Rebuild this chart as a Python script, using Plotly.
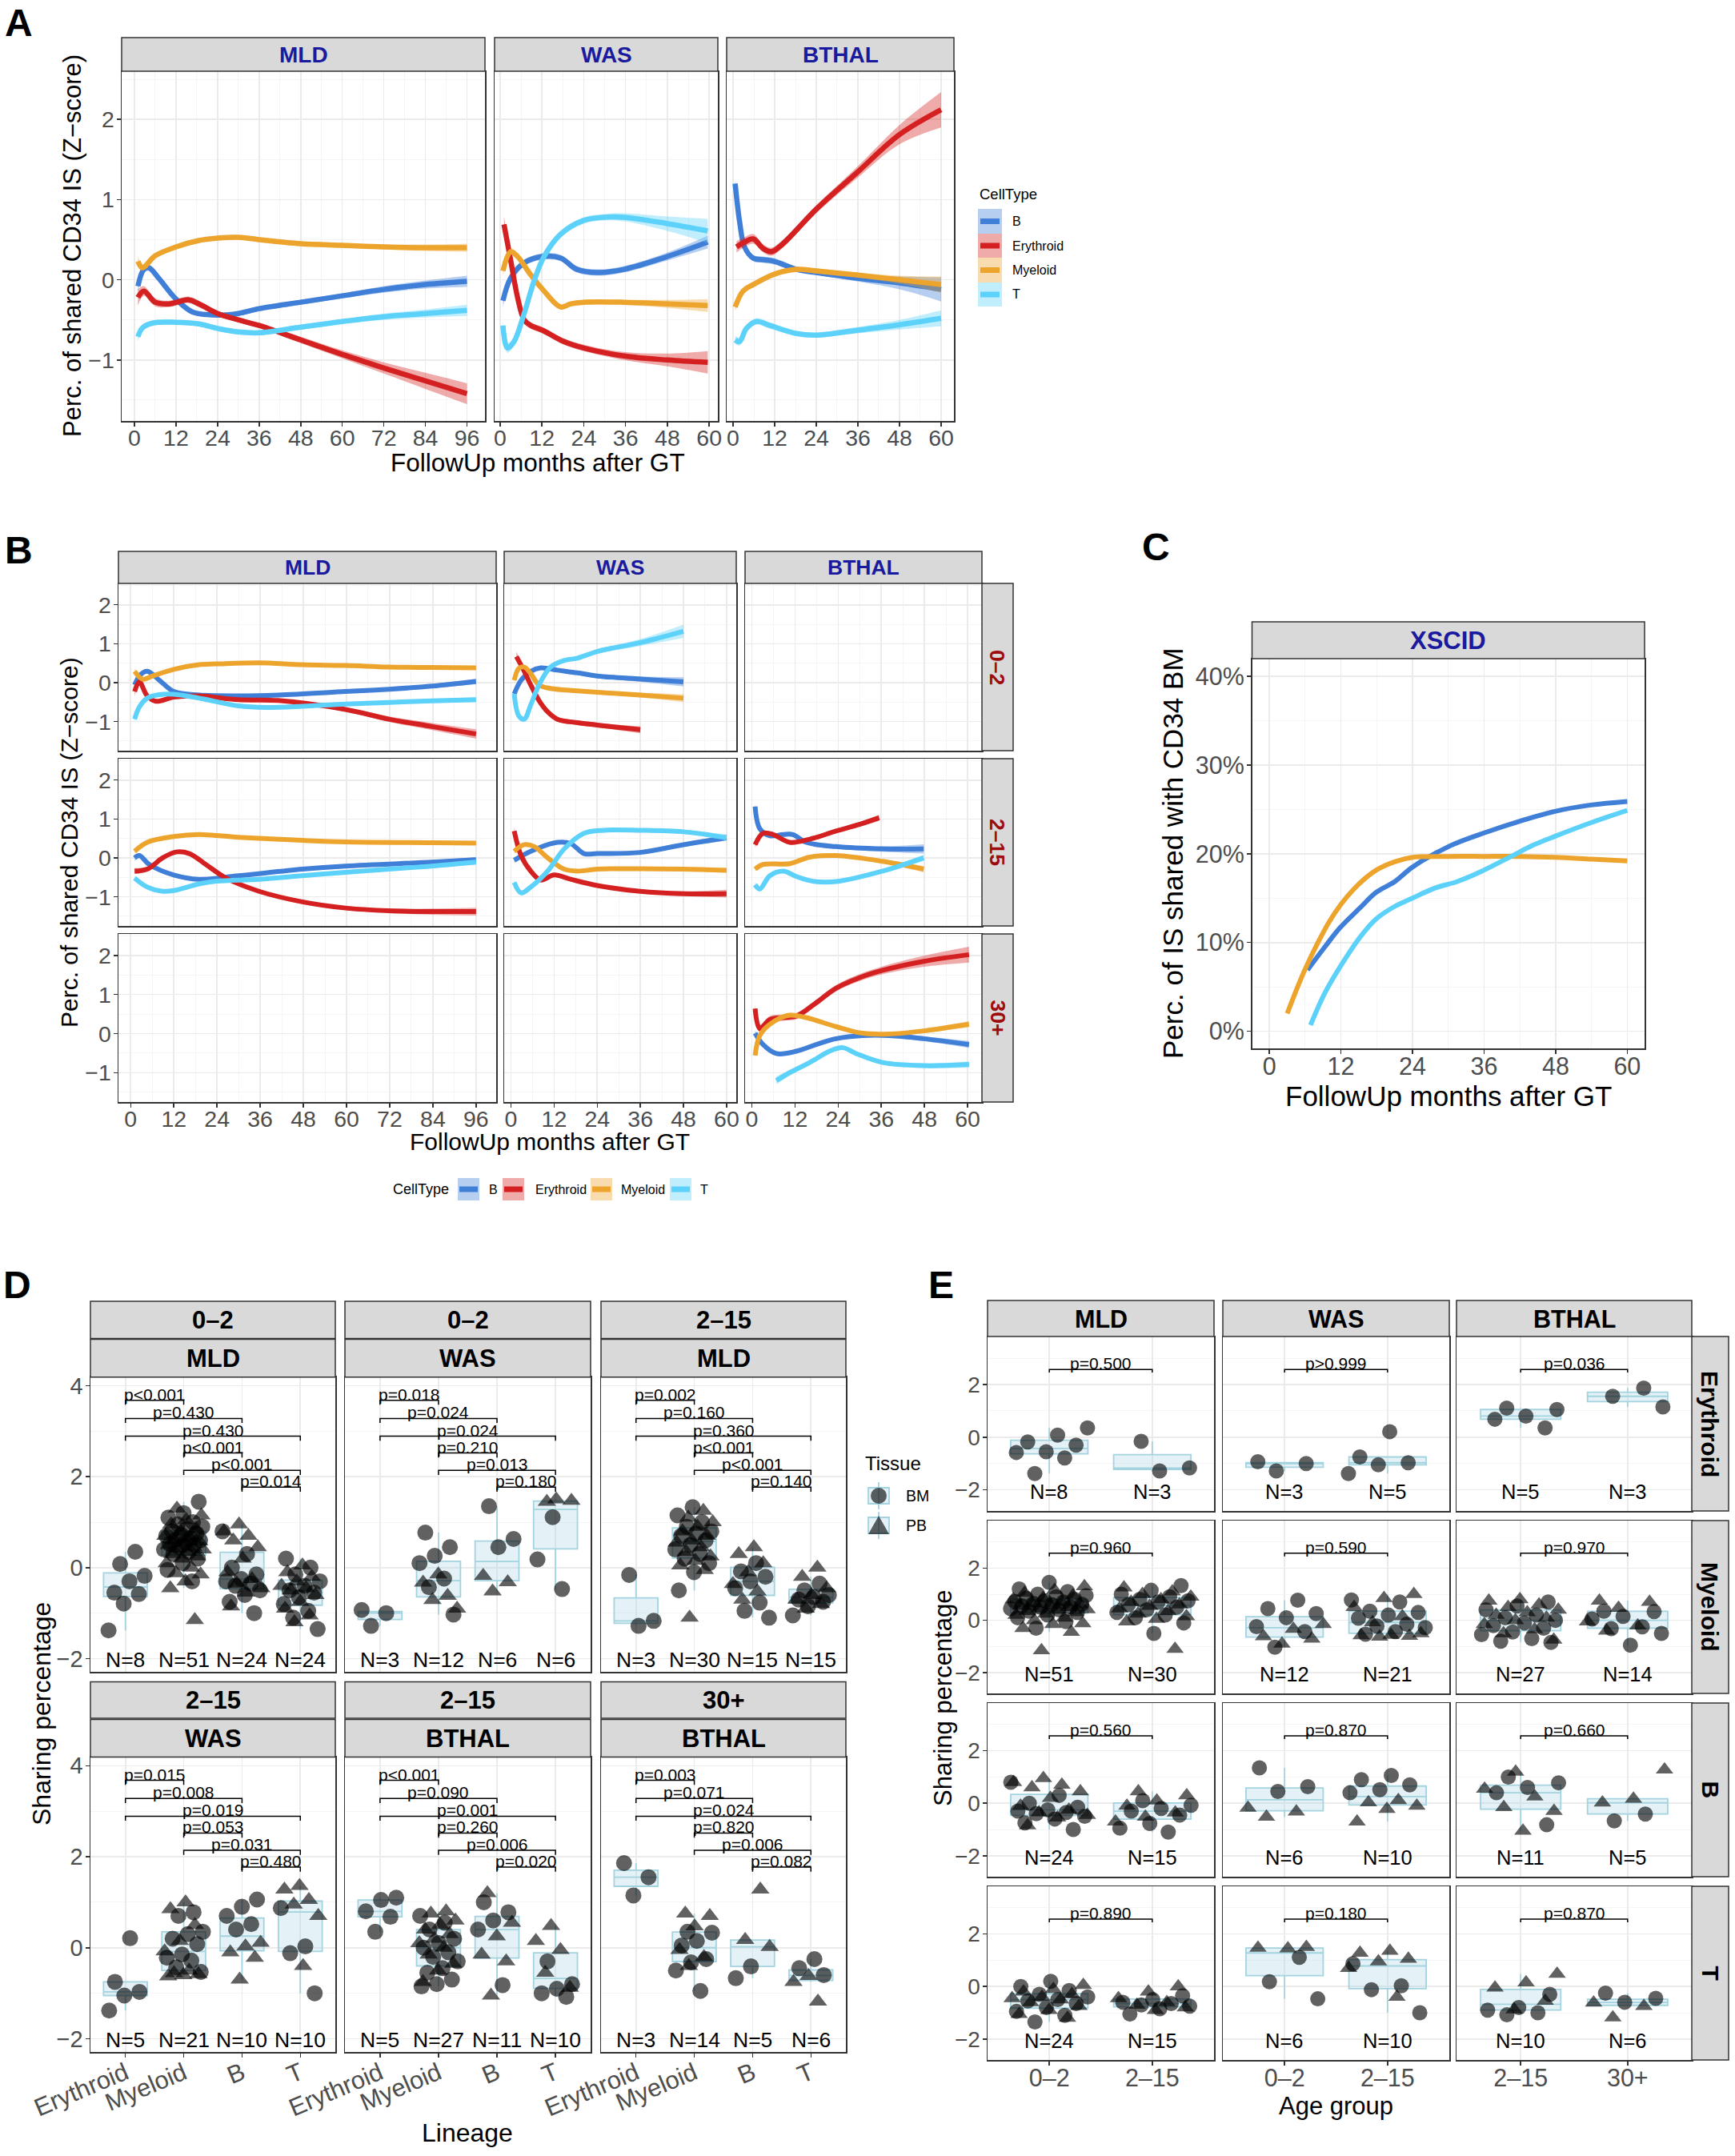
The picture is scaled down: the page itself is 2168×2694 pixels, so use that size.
import numpy as np
import plotly.graph_objects as go

W, H = 2168, 2694
FONT = "Liberation Sans, Arial, Helvetica, sans-serif"
TICK_TXT = "#4D4D4D"
EDGE = "#333333"
GRID = "#EBEBEB"
GRID_MINOR = "#F5F5F5"
STRIP_FILL = "#D9D9D9"
BLUE_TXT = "#1A1A9E"
RED_TXT = "#9E0B0B"
BOX_FILL = "rgba(173,216,230,0.33)"
BOX_LINE = "#A3D3DF"
PT_COLOR = "rgba(0,0,0,0.62)"

CELL_TYPES = ["B", "Erythroid", "Myeloid", "T"]
LINE_COLORS = {"B": "#3F7FD8", "Erythroid": "#D42020", "Myeloid": "#EDA42C", "T": "#5CD1FA"}
BAND_COLORS = {"B": "rgba(63,127,216,0.38)", "Erythroid": "rgba(212,32,32,0.38)",
               "Myeloid": "rgba(237,164,44,0.38)", "T": "rgba(92,209,250,0.38)"}

# ======================= DATA =======================
# ---- Panel A : smoothed Z-score curves (x = months, y = z, se = ribbon half width)
A_MLD = {
    "B": dict(x=[1, 2.7, 4.2, 7, 12, 16.7, 24, 30, 36, 48, 60, 72, 84, 96],
              y=[-0.08, 0.13, 0.15, 0.02, -0.24, -0.40, -0.44, -0.42, -0.36, -0.28, -0.20, -0.12, -0.06, -0.02],
              se=[0.08, 0.05, 0.04, 0.04, 0.03, 0.03, 0.03, 0.03, 0.03, 0.03, 0.03, 0.04, 0.05, 0.07]),
    "Erythroid": dict(x=[1, 2.7, 6, 10, 15.7, 18.6, 24, 30, 36, 48, 60, 72, 84, 96],
                      y=[-0.22, -0.14, -0.28, -0.30, -0.25, -0.30, -0.42, -0.50, -0.57, -0.75, -0.93, -1.10, -1.26, -1.42],
                      se=[0.10, 0.06, 0.05, 0.04, 0.04, 0.04, 0.03, 0.03, 0.03, 0.04, 0.05, 0.07, 0.10, 0.13]),
    "Myeloid": dict(x=[1, 2.3, 6, 12, 18.6, 24, 30, 36, 48, 60, 72, 84, 96],
                    y=[0.23, 0.15, 0.30, 0.41, 0.49, 0.52, 0.53, 0.50, 0.45, 0.43, 0.41, 0.40, 0.40],
                    se=[0.07, 0.04, 0.03, 0.03, 0.03, 0.03, 0.03, 0.03, 0.03, 0.03, 0.03, 0.04, 0.05]),
    "T": dict(x=[1, 2.3, 5.2, 12, 18.6, 24.4, 30, 36, 48, 60, 72, 84, 96],
              y=[-0.71, -0.60, -0.54, -0.53, -0.55, -0.61, -0.65, -0.66, -0.59, -0.52, -0.46, -0.42, -0.38],
              se=[0.06, 0.04, 0.03, 0.03, 0.03, 0.03, 0.03, 0.03, 0.03, 0.03, 0.04, 0.05, 0.07]),
}
A_WAS = {
    "B": dict(x=[0.8, 3, 6.9, 12.2, 17.4, 22, 28, 35.5, 48, 59.6],
              y=[-0.26, 0.02, 0.21, 0.29, 0.27, 0.13, 0.09, 0.13, 0.29, 0.47],
              se=[0.08, 0.05, 0.04, 0.04, 0.04, 0.04, 0.04, 0.04, 0.05, 0.08]),
    "Erythroid": dict(x=[1.1, 3, 5, 6.9, 8.8, 12.2, 18.3, 24, 35.5, 48, 59.6],
                      y=[0.69, 0.25, -0.22, -0.50, -0.57, -0.63, -0.77, -0.85, -0.95, -1.00, -1.03],
                      se=[0.10, 0.07, 0.05, 0.05, 0.04, 0.04, 0.04, 0.04, 0.05, 0.08, 0.14]),
    "Myeloid": dict(x=[0.8, 3, 5, 8.8, 12.6, 17.4, 20.3, 24, 35.5, 48, 59.6],
                    y=[0.11, 0.35, 0.29, 0.06, -0.14, -0.34, -0.30, -0.28, -0.28, -0.30, -0.32],
                    se=[0.06, 0.04, 0.04, 0.03, 0.03, 0.03, 0.03, 0.03, 0.03, 0.05, 0.08]),
    "T": dict(x=[0.8, 2.1, 4, 6.9, 9.7, 12.6, 17.4, 24, 29.8, 35.5, 48, 59.6],
              y=[-0.57, -0.85, -0.77, -0.42, -0.02, 0.29, 0.57, 0.74, 0.78, 0.78, 0.70, 0.61],
              se=[0.07, 0.06, 0.05, 0.04, 0.04, 0.04, 0.04, 0.04, 0.04, 0.05, 0.09, 0.15]),
}
A_BTHAL = {
    "B": dict(x=[0.6, 1.9, 3.3, 5.8, 8.7, 11.9, 18.3, 24, 35.6, 48, 60],
              y=[1.20, 0.72, 0.41, 0.27, 0.25, 0.23, 0.13, 0.09, 0.02, -0.04, -0.12],
              se=[0.06, 0.05, 0.04, 0.04, 0.04, 0.04, 0.03, 0.03, 0.04, 0.08, 0.15]),
    "Erythroid": dict(x=[1, 3.3, 5.8, 8.7, 11, 14.4, 24, 35.6, 48, 60],
                      y=[0.41, 0.47, 0.51, 0.39, 0.35, 0.45, 0.88, 1.33, 1.81, 2.12],
                      se=[0.07, 0.06, 0.06, 0.05, 0.05, 0.05, 0.05, 0.07, 0.12, 0.22]),
    "Myeloid": dict(x=[0.6, 2.9, 5.8, 11.9, 18.3, 24, 35.6, 48, 60],
                    y=[-0.34, -0.14, -0.06, 0.07, 0.13, 0.11, 0.06, 0.00, -0.06],
                    se=[0.05, 0.04, 0.03, 0.03, 0.03, 0.03, 0.03, 0.05, 0.10]),
    "T": dict(x=[0.6, 1.9, 3.8, 6.7, 10.6, 18.3, 24, 35.6, 48, 60],
              y=[-0.75, -0.77, -0.61, -0.52, -0.57, -0.67, -0.69, -0.63, -0.56, -0.48],
              se=[0.05, 0.05, 0.04, 0.04, 0.04, 0.03, 0.03, 0.04, 0.06, 0.10]),
}

# ---- Panel B : same, split by age group
B_MLD_02 = {
    "B": dict(x=[1.1, 2.8, 4.6, 8, 12, 19, 30, 41, 59.7, 71.8, 83.8, 96],
              y=[-0.06, 0.21, 0.29, 0.06, -0.23, -0.32, -0.34, -0.32, -0.23, -0.17, -0.09, 0.03],
              se=[0.09, 0.06, 0.05, 0.04, 0.04, 0.03, 0.03, 0.03, 0.03, 0.04, 0.05, 0.07]),
    "Erythroid": dict(x=[1.1, 2.4, 4.6, 7, 12, 19, 30, 41, 59.7, 71.8, 83.8, 96],
                      y=[-0.23, 0.02, -0.34, -0.48, -0.37, -0.34, -0.44, -0.46, -0.69, -0.94, -1.13, -1.32],
                      se=[0.12, 0.08, 0.06, 0.05, 0.04, 0.04, 0.04, 0.04, 0.05, 0.07, 0.09, 0.12]),
    "Myeloid": dict(x=[1.1, 3.3, 6.1, 12, 19, 24, 35.7, 47.7, 59.7, 71.8, 83.8, 96],
                    y=[0.29, 0.09, 0.17, 0.34, 0.46, 0.48, 0.51, 0.46, 0.44, 0.40, 0.39, 0.38],
                    se=[0.08, 0.05, 0.04, 0.03, 0.03, 0.03, 0.03, 0.03, 0.03, 0.03, 0.04, 0.05]),
    "T": dict(x=[1.1, 2.4, 4.6, 8, 12, 19, 30, 37.5, 47.7, 59.7, 71.8, 83.8, 96],
              y=[-0.94, -0.63, -0.40, -0.31, -0.30, -0.40, -0.60, -0.64, -0.61, -0.55, -0.51, -0.47, -0.44],
              se=[0.08, 0.06, 0.05, 0.04, 0.03, 0.03, 0.03, 0.03, 0.03, 0.03, 0.04, 0.05, 0.06]),
}
B_WAS_02 = {
    "B": dict(x=[0.9, 2.8, 5.5, 8.3, 12.9, 18.5, 24, 36, 48],
              y=[-0.29, 0.06, 0.29, 0.38, 0.32, 0.25, 0.17, 0.09, 0.02],
              se=[0.09, 0.06, 0.05, 0.05, 0.05, 0.05, 0.05, 0.07, 0.12]),
    "Erythroid": dict(x=[1.5, 3.7, 5.5, 7.8, 10.2, 12.9, 18.5, 24, 29.5, 36],
                      y=[0.67, 0.29, -0.06, -0.46, -0.75, -0.94, -1.03, -1.09, -1.15, -1.21],
                      se=[0.12, 0.08, 0.06, 0.06, 0.06, 0.06, 0.06, 0.06, 0.07, 0.09]),
    "Myeloid": dict(x=[0.9, 2.2, 3.7, 5.5, 7.8, 11, 18.5, 24, 36, 48],
                    y=[0.06, 0.37, 0.40, 0.23, -0.06, -0.15, -0.21, -0.25, -0.32, -0.40],
                    se=[0.08, 0.06, 0.05, 0.04, 0.04, 0.04, 0.04, 0.04, 0.06, 0.10]),
    "T": dict(x=[0.9, 2.2, 3.7, 5.5, 7.8, 11, 14.8, 18.5, 24, 36, 48],
              y=[-0.29, -0.86, -0.94, -0.57, -0.06, 0.40, 0.57, 0.63, 0.80, 1.03, 1.32],
              se=[0.09, 0.07, 0.06, 0.05, 0.05, 0.05, 0.05, 0.05, 0.06, 0.09, 0.17]),
}
B_MLD_215 = {
    "B": dict(x=[1.1, 2.4, 5.2, 12, 19, 30, 47.7, 59.7, 83.8, 96],
              y=[0.00, 0.06, -0.17, -0.44, -0.55, -0.46, -0.29, -0.21, -0.11, -0.05],
              se=[0.08, 0.06, 0.05, 0.04, 0.03, 0.03, 0.03, 0.03, 0.05, 0.07]),
    "Erythroid": dict(x=[1.1, 4.6, 8.9, 12.6, 16.3, 20.9, 26.5, 35.7, 47.7, 59.7, 71.8, 83.8, 96],
                      y=[-0.34, -0.29, 0.00, 0.15, 0.11, -0.17, -0.52, -0.86, -1.13, -1.29, -1.36, -1.38, -1.38],
                      se=[0.08, 0.06, 0.05, 0.05, 0.05, 0.05, 0.04, 0.04, 0.04, 0.05, 0.06, 0.08, 0.10]),
    "Myeloid": dict(x=[1.1, 4.6, 12, 19, 30, 47.7, 59.7, 83.8, 96],
                    y=[0.17, 0.40, 0.55, 0.60, 0.53, 0.45, 0.41, 0.39, 0.38],
                    se=[0.06, 0.04, 0.03, 0.03, 0.03, 0.03, 0.03, 0.04, 0.05]),
    "T": dict(x=[1.1, 4.6, 8.9, 12, 19, 24, 35.7, 47.7, 59.7, 71.8, 83.8, 96],
              y=[-0.52, -0.75, -0.86, -0.84, -0.67, -0.60, -0.55, -0.46, -0.37, -0.29, -0.21, -0.11],
              se=[0.06, 0.04, 0.04, 0.03, 0.03, 0.03, 0.03, 0.03, 0.03, 0.04, 0.05, 0.06]),
}
B_WAS_215 = {
    "B": dict(x=[0.9, 5.5, 12.9, 16.6, 20.3, 24, 36, 48, 60],
              y=[-0.06, 0.17, 0.40, 0.37, 0.11, 0.11, 0.14, 0.34, 0.52],
              se=[0.07, 0.05, 0.04, 0.04, 0.04, 0.04, 0.04, 0.05, 0.08]),
    "Erythroid": dict(x=[0.9, 2.8, 5.5, 8.3, 12, 16.6, 24, 36, 48, 60],
                      y=[0.69, 0.06, -0.34, -0.57, -0.44, -0.55, -0.71, -0.86, -0.92, -0.92],
                      se=[0.10, 0.07, 0.05, 0.04, 0.04, 0.04, 0.04, 0.04, 0.06, 0.10]),
    "Myeloid": dict(x=[0.9, 3.7, 6.5, 10.2, 14.8, 18.5, 24, 36, 48, 60],
                    y=[0.17, 0.34, 0.29, 0.00, -0.29, -0.34, -0.29, -0.28, -0.29, -0.32],
                    se=[0.06, 0.04, 0.04, 0.03, 0.03, 0.03, 0.03, 0.03, 0.04, 0.06]),
    "T": dict(x=[0.9, 2.8, 5.5, 10.2, 14.8, 20.3, 25.8, 36, 48, 60],
              y=[-0.63, -0.90, -0.75, -0.34, 0.23, 0.63, 0.71, 0.71, 0.67, 0.52],
              se=[0.07, 0.06, 0.05, 0.04, 0.04, 0.04, 0.04, 0.04, 0.05, 0.08]),
}
B_BTHAL_215 = {
    "B": dict(x=[0.9, 2.2, 5, 8.7, 11.4, 15.1, 23.4, 36.4, 47.8],
              y=[1.32, 0.75, 0.57, 0.60, 0.60, 0.40, 0.29, 0.23, 0.23],
              se=[0.08, 0.06, 0.05, 0.05, 0.05, 0.05, 0.05, 0.07, 0.12]),
    "Erythroid": dict(x=[0.9, 3.1, 5.9, 10.5, 16.1, 23.4, 29.9, 35.4],
                      y=[0.34, 0.63, 0.60, 0.40, 0.48, 0.69, 0.86, 1.03],
                      se=[0.08, 0.06, 0.05, 0.05, 0.05, 0.05, 0.06, 0.08]),
    "Myeloid": dict(x=[0.9, 3.1, 10.5, 16.1, 23.4, 36.4, 47.8],
                    y=[-0.29, -0.17, -0.15, 0.02, 0.06, -0.09, -0.29],
                    se=[0.06, 0.04, 0.04, 0.04, 0.04, 0.05, 0.08]),
    "T": dict(x=[0.9, 2.2, 5, 8.7, 12.4, 17, 23.4, 36.4, 47.8],
              y=[-0.69, -0.80, -0.46, -0.34, -0.48, -0.60, -0.61, -0.34, 0.00],
              se=[0.06, 0.05, 0.04, 0.04, 0.04, 0.04, 0.04, 0.05, 0.08]),
}
B_BTHAL_30 = {
    "B": dict(x=[0.9, 3.1, 6.8, 12.4, 17.9, 23.4, 30.8, 38.2, 47.8, 60.4],
              y=[0.01, -0.28, -0.51, -0.45, -0.28, -0.13, -0.05, -0.05, -0.13, -0.28],
              se=[0.08, 0.06, 0.05, 0.05, 0.05, 0.05, 0.05, 0.05, 0.06, 0.09]),
    "Erythroid": dict(x=[0.9, 2.2, 5, 8.7, 12.4, 17.9, 23.4, 29.9, 36.4, 47.8, 60.4],
                      y=[0.64, 0.13, 0.36, 0.41, 0.45, 0.79, 1.16, 1.43, 1.62, 1.85, 2.02],
                      se=[0.12, 0.10, 0.09, 0.08, 0.08, 0.08, 0.08, 0.09, 0.10, 0.14, 0.20]),
    "Myeloid": dict(x=[0.9, 2.2, 5, 10.5, 15.1, 23.4, 30.8, 38.2, 47.8, 60.4],
                    y=[-0.56, -0.05, 0.24, 0.47, 0.41, 0.18, 0.01, -0.01, 0.07, 0.24],
                    se=[0.08, 0.06, 0.05, 0.04, 0.04, 0.04, 0.04, 0.04, 0.05, 0.08]),
    "T": dict(x=[6.8, 10.5, 16.1, 21.6, 25.3, 29, 36.4, 47.8, 60.4],
              y=[-1.20, -1.00, -0.74, -0.45, -0.36, -0.51, -0.74, -0.82, -0.79],
              se=[0.10, 0.08, 0.06, 0.05, 0.05, 0.05, 0.05, 0.06, 0.08]),
}

# ---- Panel C : XSCID, % of IS shared with CD34 BM
C_B_months = [6.4, 9.3, 11.9, 15.2, 17.8, 21.1, 24, 30.3, 36.2, 42.1, 48, 53.9, 60]
C_B_pct = [6.9, 9.5, 11.7, 13.9, 15.6, 16.9, 18.5, 20.9, 22.4, 23.7, 24.8, 25.5, 25.9]
C_M_months = [3, 4.5, 6, 8, 10, 12, 14, 16, 18, 21, 24, 30, 36, 42, 48, 54, 60]
C_M_pct = [2.0, 4.6, 7.0, 9.8, 12.3, 14.3, 15.9, 17.2, 18.2, 19.1, 19.6, 19.7, 19.7, 19.7, 19.6, 19.4, 19.2]
C_T_months = [6.9, 9.3, 11.9, 15.2, 17.8, 21.1, 24, 27.6, 31.6, 35.5, 40.8, 44, 48, 53.9, 60]
C_T_pct = [0.7, 4.3, 7.3, 10.6, 12.6, 14.1, 15.0, 16.1, 16.9, 18.0, 19.8, 20.9, 22.0, 23.5, 24.9]

# ---- Panels D / E : sharing percentage per sample, (BM values, PB values)
LINEAGES = ["Erythroid", "Myeloid", "B", "T"]
MLD_0_2 = {
    "Erythroid": ([0.35, 0.08, -0.18, -0.3, -0.55, -0.58, -0.79, -1.38], []),
    "Myeloid": ([1.45, 1.2, 1.1, 1.0, 0.95, 0.9, 0.85, 0.8, 0.75, 0.72, 0.7, 0.65, 0.62, 0.6, 0.55, 0.52,
                 0.5, 0.45, 0.4, 0.35, 0.3, 0.2, 0.1, -0.05, -0.3],
                [1.3, 1.15, 1.05, 0.95, 0.85, 0.8, 0.7, 0.65, 0.6, 0.58, 0.55, 0.5, 0.45, 0.42, 0.4, 0.35,
                 0.3, 0.25, 0.2, 0.1, 0.0, -0.12, -0.15, -0.3, -0.45, -1.15]),
    "B": ([0.8, 0.3, 0.0, -0.15, -0.25, -0.3, -0.35, -0.4, -0.5, -0.6, -0.75, -1.0],
          [0.95, 0.8, 0.7, 0.6, 0.45, 0.2, -0.1, -0.25, -0.35, -0.45, -0.55, -0.85]),
    "T": ([0.2, 0.0, -0.15, -0.3, -0.4, -0.5, -0.55, -0.65, -0.8, -0.95, -1.1, -1.35],
          [0.05, -0.1, -0.2, -0.3, -0.4, -0.45, -0.5, -0.6, -0.75, -0.9, -1.05, -1.2]),
}
WAS_0_2 = {
    "Erythroid": ([-0.93, -1.0, -1.28], []),
    "Myeloid": ([0.77, 0.45, 0.26, 0.1, -0.24, -0.43, -1.03], [-0.15, -0.33, -0.62, -0.71, -0.9]),
    "B": ([1.35, 0.63, 0.45], [-0.18, -0.32, -0.52]),
    "T": ([1.11, 0.18, -0.47], [1.45, 1.47, 1.5]),
}
MLD_2_15 = {
    "Erythroid": ([-0.16, -1.17, -1.28], []),
    "Myeloid": ([1.33, 1.15, 1.0, 0.9, 0.8, 0.75, 0.7, 0.6, 0.5, 0.4, 0.3, 0.2, 0.1, -0.1, -0.5],
                [1.25, 1.1, 1.0, 0.9, 0.8, 0.7, 0.6, 0.55, 0.45, 0.35, 0.25, 0.15, 0.05, -0.05, -1.1]),
    "B": ([0.1, -0.08, -0.2, -0.3, -0.45, -0.77, -0.95, -1.1], [0.45, 0.3, 0.1, -0.1, -0.36, -0.52, -0.7]),
    "T": ([-0.35, -0.5, -0.6, -0.65, -0.7, -0.75, -0.85, -1.05], [0.0, -0.2, -0.45, -0.6, -0.7, -0.8, -0.9]),
}
WAS_2_15 = {
    "Erythroid": ([0.21, -0.75, -0.97, -1.05, -1.38], []),
    "Myeloid": ([0.78, 0.7, 0.35, 0.3, 0.2, 0.08, -0.15, -0.22, -0.28, -0.43, -0.53],
                [1.0, 0.85, 0.5, 0.15, -0.08, -0.5, -0.56, -0.58, -0.6, -0.63]),
    "B": ([1.06, 0.9, 0.7, 0.52, 0.4], [0.11, 0.03, -0.1, -0.22, -0.7]),
    "T": ([0.87, 0.03, -0.12, -1.0], [1.36, 1.28, 1.05, 0.95, 0.7, -0.4]),
}
BTHAL_2_15 = {
    "Erythroid": ([1.1, 1.05, 0.8, 0.68, 0.35], []),
    "Myeloid": ([0.7, 0.55, 0.4, 0.2, 0.1, 0.0, -0.1, -0.2, -0.3, -0.45, -0.55, -0.7, -0.8, -0.85],
                [0.8, 0.75, 0.6, 0.5, 0.4, 0.3, 0.2, 0.1, 0.0, -0.15, -0.35, -0.5, -0.75]),
    "B": ([1.0, 0.78, 0.6, 0.4, -0.82], [1.2, 0.55, 0.25, -0.15, -0.3, -1.05]),
    "T": ([-0.3, -0.8, -0.9, -1.0, -1.08], [0.48, 0.15, -0.05, -0.55, -0.88]),
}
BTHAL_30 = {
    "Erythroid": ([1.86, 1.55, 1.15], []),
    "Myeloid": ([0.35, 0.33, 0.15, 0.05, -0.25, -0.32, -0.5, -0.95], [0.75, 0.7, 0.47, -0.05, -0.2, -0.4]),
    "B": ([-0.41, -0.67], [1.28, 0.17, 0.02]),
    "T": ([-0.25, -0.45, -0.6], [-0.62, -0.75, -1.18]),
}

# pairwise p-values (Ery-Mye, Ery-B, Ery-T, Mye-B, Mye-T, B-T)
D_P_MLD_0_2 = ["p<0.001", "p=0.430", "p=0.430", "p<0.001", "p<0.001", "p=0.014"]
D_P_WAS_0_2 = ["p=0.018", "p=0.024", "p=0.024", "p=0.210", "p=0.013", "p=0.180"]
D_P_MLD_2_15 = ["p=0.002", "p=0.160", "p=0.360", "p<0.001", "p<0.001", "p=0.140"]
D_P_WAS_2_15 = ["p=0.015", "p=0.008", "p=0.019", "p=0.053", "p=0.031", "p=0.480"]
D_P_BTHAL_2_15 = ["p<0.001", "p=0.090", "p=0.001", "p=0.260", "p=0.006", "p=0.020"]
D_P_BTHAL_30 = ["p=0.003", "p=0.071", "p=0.024", "p=0.820", "p=0.006", "p=0.082"]

E_DISEASES = ["MLD", "WAS", "BTHAL"]
E_AGES = {"MLD": ["0–2", "2–15"], "WAS": ["0–2", "2–15"], "BTHAL": ["2–15", "30+"]}
E_P = {"Erythroid": ["p=0.500", "p>0.999", "p=0.036"],
       "Myeloid": ["p=0.960", "p=0.590", "p=0.970"],
       "B": ["p=0.560", "p=0.870", "p=0.660"],
       "T": ["p=0.890", "p=0.180", "p=0.870"]}

COHORTS = {("MLD", "0–2"): MLD_0_2, ("WAS", "0–2"): WAS_0_2, ("MLD", "2–15"): MLD_2_15,
           ("WAS", "2–15"): WAS_2_15, ("BTHAL", "2–15"): BTHAL_2_15, ("BTHAL", "30+"): BTHAL_30}

# ======================= FIGURE =======================
fig = go.Figure()
layout = {}
shapes = []
annotations = []
_axn = [0]


def px_x(px):
    return px / W


def px_y(py):
    return 1 - py / H


def axis_base(size, standoff):
    return dict(showline=True, mirror=True, linecolor=EDGE, linewidth=1.5, automargin=False,
                showgrid=True, gridcolor=GRID, gridwidth=1.6, zeroline=False,
                ticks="outside", ticklen=5, tickwidth=1.5, tickcolor=EDGE, ticklabelstandoff=standoff,
                tickfont=dict(family=FONT, size=size, color=TICK_TXT), fixedrange=True)


def add_axes(x0, x1, y0, y1, xr, yr, xopt=None, yopt=None, size=27):
    _axn[0] += 1
    n = _axn[0]
    s = "" if n == 1 else str(n)
    xd = axis_base(size, -10)
    xd.update(domain=[px_x(x0), px_x(x1)], range=xr, anchor="y" + s)
    yd = axis_base(size, -3)
    yd.update(domain=[px_y(y1), px_y(y0)], range=yr, anchor="x" + s)
    if xopt:
        xd.update(xopt)
    if yopt:
        yd.update(yopt)
    layout["xaxis" + s] = xd
    layout["yaxis" + s] = yd
    xa, ya = "x" + s, "y" + s
    # empty carrier trace so that every panel (even one without data) is drawn
    fig.add_trace(go.Scatter(x=[], y=[], xaxis=xa, yaxis=ya, showlegend=False, hoverinfo="skip"))
    return xa, ya


HIDE = dict(showticklabels=False, ticks="")


def minor(dt=None, vals=None):
    d = dict(showgrid=True, gridcolor=GRID_MINOR, gridwidth=1, ticks="")
    if vals is not None:
        d["tickvals"] = vals
    else:
        d.update(tick0=0, dtick=dt)
    return d


def tfont(size):
    return dict(family=FONT, size=size, color=TICK_TXT)


def esc(t):
    return t.replace("<", "&lt;").replace(">", "&gt;")


def ptext(x, y, text, size, color="black", xanchor="center", yanchor="middle", angle=0, bold=False):
    annotations.append(dict(x=px_x(x), y=px_y(y), xref="paper", yref="paper", showarrow=False,
                            text=("<b>%s</b>" % text) if bold else text, textangle=angle,
                            xanchor=xanchor, yanchor=yanchor,
                            font=dict(family=FONT, size=size, color=color)))


def prect(x0, y0, x1, y1, fill, line=None, lw=0):
    shapes.append(dict(type="rect", xref="paper", yref="paper", x0=px_x(x0), x1=px_x(x1),
                       y0=px_y(y1), y1=px_y(y0), fillcolor=fill,
                       line=dict(color=line if line else "rgba(0,0,0,0)", width=lw)))


def pline(x0, y0, x1, y1, color, width):
    shapes.append(dict(type="line", xref="paper", yref="paper", x0=px_x(x0), x1=px_x(x1),
                       y0=px_y(y0), y1=px_y(y1), line=dict(color=color, width=width)))


def strip(x0, y0, x1, y1, text, color, size, angle=0):
    prect(x0, y0, x1, y1, STRIP_FILL, EDGE, 1.5)
    ptext((x0 + x1) / 2, (y0 + y1) / 2, text, size, color=color, angle=angle, bold=True)


def add_smooth(xa, ya, series, lw):
    for ct in CELL_TYPES:
        if ct not in series:
            continue
        s = series[ct]
        lo = [a - b for a, b in zip(s["y"], s["se"])]
        hi = [a + b for a, b in zip(s["y"], s["se"])]
        fig.add_trace(go.Scatter(x=s["x"], y=lo, mode="lines", line=dict(width=0, shape="spline"),
                                 xaxis=xa, yaxis=ya, showlegend=False, hoverinfo="skip"))
        fig.add_trace(go.Scatter(x=s["x"], y=hi, mode="lines", line=dict(width=0, shape="spline"),
                                 fill="tonexty", fillcolor=BAND_COLORS[ct],
                                 xaxis=xa, yaxis=ya, showlegend=False, hoverinfo="skip"))
        fig.add_trace(go.Scatter(x=s["x"], y=s["y"], mode="lines",
                                 line=dict(width=lw, shape="spline", color=LINE_COLORS[ct]),
                                 xaxis=xa, yaxis=ya, showlegend=False, hoverinfo="skip"))


def box_stats(v):
    a = np.array(v, float)
    q1, med, q3 = np.percentile(a, [25, 50, 75])
    iqr = q3 - q1
    lf = a[a >= q1 - 1.5 * iqr].min()
    uf = a[a <= q3 + 1.5 * iqr].max()
    return q1, med, q3, lf, uf


def add_box(xa, ya, k, vals):
    q1, med, q3, lf, uf = box_stats(vals)
    fig.add_trace(go.Box(x=[k], q1=[q1], median=[med], q3=[q3], lowerfence=[lf], upperfence=[uf],
                         width=0.75, fillcolor=BOX_FILL, line=dict(color=BOX_LINE, width=1.8),
                         whiskerwidth=0, boxpoints=False, xaxis=xa, yaxis=ya,
                         showlegend=False, hoverinfo="skip"))


GOLD = 0.6180339887


def spread(n, half, seed):
    return [half * (2.0 * (((i + 1) * GOLD + seed) % 1.0) - 1.0) for i in range(n)]


def add_points(xa, ya, k, bm, pb, half, seed, size):
    offs = spread(len(bm) + len(pb), half, seed)
    if bm:
        fig.add_trace(go.Scatter(x=[k + o for o in offs[:len(bm)]], y=bm, mode="markers",
                                 marker=dict(symbol="circle", size=size, color=PT_COLOR, line=dict(width=0)),
                                 xaxis=xa, yaxis=ya, showlegend=False, hoverinfo="skip"))
    if pb:
        fig.add_trace(go.Scatter(x=[k + o for o in offs[len(bm):]], y=pb, mode="markers",
                                 marker=dict(symbol="triangle-up", size=size, color=PT_COLOR,
                                             line=dict(width=0)),
                                 xaxis=xa, yaxis=ya, showlegend=False, hoverinfo="skip"))


def bracket(xa, ya, a, b, lev, tip, text, size):
    shapes.append(dict(type="path", xref=xa, yref=ya,
                       path="M %s,%s L %s,%s L %s,%s L %s,%s" % (a, lev - tip, a, lev, b, lev, b, lev - tip),
                       line=dict(color="black", width=1.5)))
    annotations.append(dict(x=(a + b) / 2, y=lev, xref=xa, yref=ya, showarrow=False, text=esc(text),
                            yanchor="bottom", yshift=-6,
                            font=dict(family=FONT, size=size, color="black")))


def data_text(xa, ya, x, y, text, size):
    annotations.append(dict(x=x, y=y, xref=xa, yref=ya, showarrow=False, text=text,
                            font=dict(family=FONT, size=size, color="black")))


# ---------------- Panel A ----------------
ptext(23, 28, "A", 48, bold=True)
A_COLS = [(152, 606, A_MLD, "MLD", [-3.7, 101.2]),
          (618, 897, A_WAS, "WAS", [-1.6, 62.5]),
          (908, 1192, A_BTHAL, "BTHAL", [-1.85, 63.7])]
for i, (x0, x1, series, name, xr) in enumerate(A_COLS):
    xopt = dict(tick0=0, dtick=12, minor=minor(6))
    yopt = dict(tick0=0, dtick=1, minor=minor(0.5))
    if i > 0:
        yopt.update(HIDE)
    xa, ya = add_axes(x0, x1, 89, 526, xr, [-1.76, 2.6], xopt, yopt, size=28.5)
    add_smooth(xa, ya, series, 6.5)
    strip(x0, 47, x1, 89, name, BLUE_TXT, 28)
ptext(672, 578, "FollowUp months after GT", 31.5)
ptext(90, 307, "Perc. of shared CD34 IS (Z−score)", 31, angle=-90)

# legend A
ptext(1222, 243, "CellType", 18.5, xanchor="left")
for (t0, t1), ct in zip([(261, 292), (292, 322), (322, 353), (353, 383)], CELL_TYPES):
    prect(1222, t0, 1252, t1, BAND_COLORS[ct])
    pline(1225, (t0 + t1) / 2, 1249, (t0 + t1) / 2, LINE_COLORS[ct], 7)
    ptext(1263, (t0 + t1) / 2, ct, 16, xanchor="left")

# ---------------- Panel B ----------------
ptext(23, 688, "B", 48, bold=True)
B_COLS = [(148, 620, "MLD", [-3.4, 101.6]), (630, 920, "WAS", [-1.9, 62.7]), (931, 1227, "BTHAL", [-1.9, 64.0])]
B_ROWS = [(729, 938, "0–2"), (948, 1157, "2–15"), (1167, 1377, "30+")]
B_SERIES = {(0, 0): B_MLD_02, (0, 1): B_WAS_02, (1, 0): B_MLD_215, (1, 1): B_WAS_215,
            (1, 2): B_BTHAL_215, (2, 2): B_BTHAL_30}
for r, (py0, py1, age) in enumerate(B_ROWS):
    for c, (x0, x1, name, xr) in enumerate(B_COLS):
        xopt = dict(tick0=0, dtick=12, minor=minor(6))
        if r < 2:
            xopt.update(HIDE)
        yopt = dict(tick0=0, dtick=1, minor=minor(0.5))
        if c > 0:
            yopt.update(HIDE)
        xa, ya = add_axes(x0, x1, py0, py1, xr, [-1.75, 2.55], xopt, yopt, size=28.5)
        if (r, c) in B_SERIES:
            add_smooth(xa, ya, B_SERIES[(r, c)], 6)
    strip(1227, py0, 1266, py1, age, RED_TXT, 26.5, angle=90)
for (x0, x1, name, xr) in B_COLS:
    strip(x0, 689, x1, 729, name, BLUE_TXT, 26.5)
ptext(687, 1427, "FollowUp months after GT", 30)
ptext(87, 1053, "Perc. of shared CD34 IS (Z−score)", 30, angle=-90)

# legend B
ptext(489, 1486, "CellType", 18, xanchor="left")
for (k0, k1, lx), ct in zip([(572, 599, 609), (628, 655, 667), (738, 765, 774), (837, 864, 873)], CELL_TYPES):
    prect(k0, 1472, k1, 1500, BAND_COLORS[ct])
    pline(k0 + 2, 1486, k1 - 2, 1486, LINE_COLORS[ct], 7)
    ptext(lx, 1486, ct, 16, xanchor="left")

# ---------------- Panel C ----------------
ptext(1444, 684, "C", 48, bold=True)
xa, ya = add_axes(1564.5, 2055, 823, 1310, [-2.9, 62.9], [-1.93, 41.99],
                  dict(tick0=0, dtick=12, minor=minor(6)),
                  dict(tick0=0, dtick=10, ticksuffix="%", minor=minor(5)), size=30.5)
for xs, ys, ct in [(C_B_months, C_B_pct, "B"), (C_M_months, C_M_pct, "Myeloid"), (C_T_months, C_T_pct, "T")]:
    fig.add_trace(go.Scatter(x=xs, y=ys, mode="lines", line=dict(width=6, shape="spline", color=LINE_COLORS[ct]),
                             xaxis=xa, yaxis=ya, showlegend=False, hoverinfo="skip"))
strip(1564.5, 777, 2055, 823, "XSCID", BLUE_TXT, 31)
ptext(1810, 1369, "FollowUp months after GT", 35)
ptext(1466, 1066, "Perc. of IS shared with CD34 BM", 35, angle=-90)

# ---------------- Panel D ----------------
ptext(21, 1605, "D", 48, bold=True)
D_PANELS = [("0–2", "MLD", D_P_MLD_0_2), ("0–2", "WAS", D_P_WAS_0_2), ("2–15", "MLD", D_P_MLD_2_15),
            ("2–15", "WAS", D_P_WAS_2_15), ("2–15", "BTHAL", D_P_BTHAL_2_15), ("30+", "BTHAL", D_P_BTHAL_30)]
D_COLS = [(113, 419), (431, 738), (751, 1057)]
D_ROWS = [((1626, 1672.5), (1673.6, 1720.7), (1720.7, 2089)),
          ((2101.5, 2147), (2148.5, 2195.5), (2195.5, 2564))]
D_PAIRS = [(1, 2), (1, 3), (1, 4), (2, 3), (2, 4), (3, 4)]
D_LEVELS = [3.68, 3.28, 2.89, 2.52, 2.14, 1.77]
for idx, (age, dis, pv) in enumerate(D_PANELS):
    r, c = divmod(idx, 3)
    x0, x1 = D_COLS[c]
    s1, s2, (py0, py1) = D_ROWS[r]
    cohort = COHORTS[(dis, age)]
    xopt = dict(tickvals=[1, 2, 3, 4], ticktext=LINEAGES, tickangle=-23, tickfont=tfont(31))
    if r == 0:
        xopt.update(HIDE)
    yopt = dict(tickvals=[-2, 0, 2, 4], minor=minor(vals=[-1, 1, 3]))
    if c > 0:
        yopt.update(HIDE)
    xa, ya = add_axes(x0, x1, py0, py1, [0.4, 4.6], [-2.29, 4.19], xopt, yopt, size=29)
    for k, lin in enumerate(LINEAGES, start=1):
        bm, pb = cohort[lin]
        add_box(xa, ya, k, bm + pb)
    for k, lin in enumerate(LINEAGES, start=1):
        bm, pb = cohort[lin]
        add_points(xa, ya, k, bm, pb, 0.34, 0.13 * k + 0.29 * idx, 20)
        data_text(xa, ya, k, -2.03, "N=%d" % (len(bm) + len(pb)), 26.5)
    for (a, b), lev, t in zip(D_PAIRS, D_LEVELS, pv):
        bracket(xa, ya, a, b, lev, 0.1, t, 21)
    strip(x0, s1[0], x1, s1[1], age, "black", 31)
    strip(x0, s2[0], x1, s2[1], dis, "black", 31)
ptext(584, 2665, "Lineage", 32)
ptext(52, 2142, "Sharing percentage", 32, angle=-90)

# legend D (Tissue)
ptext(1079, 1828, "Tissue", 24, xanchor="left")
for cy, sym, lab in [(1869, "circle", "BM"), (1906, "triangle", "PB")]:
    pline(1098, cy - 17, 1098, cy + 17, BOX_LINE, 1.8)
    prect(1085, cy - 10, 1111, cy + 10, "rgba(173,216,230,0.33)", BOX_LINE, 1.8)
    if sym == "circle":
        shapes.append(dict(type="circle", xref="paper", yref="paper", x0=px_x(1088), x1=px_x(1108),
                           y0=px_y(cy + 10), y1=px_y(cy - 10), fillcolor=PT_COLOR, line=dict(width=0)))
    else:
        shapes.append(dict(type="path", xref="paper", yref="paper",
                           path="M %f,%f L %f,%f L %f,%f Z" % (px_x(1085), px_y(cy + 11), px_x(1111), px_y(cy + 11),
                                                              px_x(1098), px_y(cy - 12)),
                           fillcolor=PT_COLOR, line=dict(width=0)))
    ptext(1130, cy, lab, 19.5, xanchor="left")

# ---------------- Panel E ----------------
ptext(1176, 1605, "E", 48, bold=True)
E_COLS = [(1234, 1517), (1528, 1811), (1820, 2114)]
E_ROWS = [(1670, 1888), (1900, 2116), (2128, 2345), (2357, 2574)]
for r, lin in enumerate(LINEAGES):
    py0, py1 = E_ROWS[r]
    for c, dis in enumerate(E_DISEASES):
        x0, x1 = E_COLS[c]
        ages = E_AGES[dis]
        xopt = dict(tickvals=[1, 2], ticktext=ages, tickfont=tfont(30.5))
        if r < 3:
            xopt.update(HIDE)
        yopt = dict(tickvals=[-2, 0, 2], minor=minor(vals=[-1, 1, 3]))
        if c > 0:
            yopt.update(HIDE)
        xa, ya = add_axes(x0, x1, py0, py1, [0.4, 2.6], [-2.8, 3.82], xopt, yopt, size=28)
        for k, age in enumerate(ages, start=1):
            bm, pb = COHORTS[(dis, age)][lin]
            add_box(xa, ya, k, bm + pb)
        for k, age in enumerate(ages, start=1):
            bm, pb = COHORTS[(dis, age)][lin]
            add_points(xa, ya, k, bm, pb, 0.38, 0.37 * k + 0.17 * (r * 3 + c), 19)
            data_text(xa, ya, k, -2.06, "N=%d" % (len(bm) + len(pb)), 25.5)
        bracket(xa, ya, 1, 2, 2.57, 0.12, E_P[lin][c], 21)
    strip(2114, py0, 2160, py1, lin, "black", 30, angle=90)
for (x0, x1), dis in zip(E_COLS, E_DISEASES):
    strip(x0, 1625, x1, 1670, dis, "black", 30.5)
ptext(1670, 2631, "Age group", 31)
ptext(1178, 2122, "Sharing percentage", 31, angle=-90)

layout.update(template="none", width=W, height=H, margin=dict(l=0, r=0, t=0, b=0, pad=0),
              paper_bgcolor="white", plot_bgcolor="white", showlegend=False,
              shapes=shapes, annotations=annotations, font=dict(family=FONT))
fig.update_layout(**layout)
fig.write_html("out.html", include_plotlyjs=True, full_html=True,
               config={"staticPlot": True, "displayModeBar": False},
               post_script="document.body.style.margin='0';")
